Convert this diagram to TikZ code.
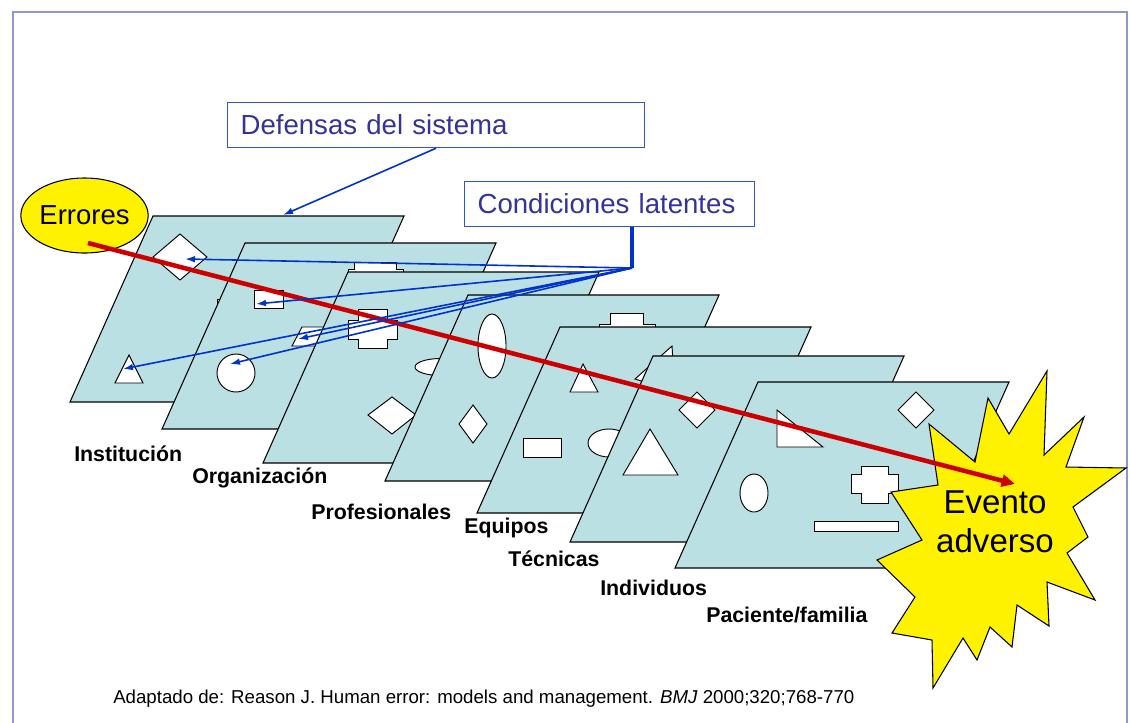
\documentclass[tikz,border=0pt]{standalone}
\usepackage{fontspec}
\setmainfont{Liberation Sans}
\usetikzlibrary{arrows.meta,shapes.geometric}
\definecolor{slabfill}{RGB}{187,224,227}
\definecolor{framecol}{RGB}{140,152,206}
\definecolor{hitred}{RGB}{204,0,0}
\definecolor{linkblue}{RGB}{0,51,204}
\definecolor{boxblue}{RGB}{51,85,204}
\definecolor{textblue}{RGB}{51,51,153}

\begin{document}
\begin{tikzpicture}[x=0.75pt,y=-0.75pt,
    slab/.style={draw=black,fill=slabfill,line width=0.8pt},
    hole/.style={draw=black,fill=white,line width=0.7pt},
    layer/.style={font=\fontsize{16}{18}\selectfont\bfseries,anchor=base west,inner sep=0pt},
    callout/.style={draw=boxblue,line width=0.9pt,fill=white,text=textblue,
        font=\fontsize{20.7}{24}\selectfont,align=left,inner xsep=9.75pt,inner ysep=2pt,
        minimum height=33.75pt,anchor=north west},
    latent/.style={draw=linkblue,line width=1.2pt,-{Latex[length=7.5pt,width=5pt]}},
    failure/.style={draw=hitred,line width=3.4pt,-{Triangle[length=10pt,width=9pt]}}]
    \useasboundingbox (0,0) rectangle (1130,722);
    \draw[framecol,line width=1.2pt] (13,730) -- (13,12) -- (1127,12) -- (1127,730);

    % Institucion
    \draw[slab] (153,216) -- ++(251,0) -- ++(-83,186) -- ++(-251,0) -- cycle;
    \draw[hole] (180,234) -- (207,257) -- (180,280) -- (153,257) -- cycle;
    \draw[hole] (129,355) -- (143,383) -- (115,383) -- cycle;
    \draw[hole] (217,299) rectangle (245,318);
    % Organizacion
    \draw[slab] (245,243) -- ++(251,0) -- ++(-83,186) -- ++(-251,0) -- cycle;
    \draw[hole] (254,290) rectangle (283,308);
    \draw[hole] (302,327) -- (334,327) -- (324,346) -- (292,346) -- cycle;
    \draw[hole] (236,373) circle[radius=14.25pt];
    \draw[hole] (354,262) -- (396,262) -- (396,269) -- (403,269) -- (403,292) -- (348,292) -- (348,269) -- (354,269) -- cycle;
    % Profesionales
    \draw[slab] (348,272) -- ++(251,0) -- ++(-85,191) -- ++(-251,0) -- cycle;
    \draw[hole] (358,309) -- (387,309) -- (387,320) -- (397,320) -- (397,339) -- (387,339) -- (387,348)
        -- (358,348) -- (358,339) -- (348,339) -- (348,320) -- (358,320) -- cycle;
    \draw[hole] (441,367) ellipse[x radius=19.5pt,y radius=6.4pt];
    \draw[hole] (392,397) -- (416,415) -- (392,434) -- (368,415) -- cycle;
    % Equipos
    \draw[slab] (468,295) -- ++(251,0) -- ++(-83,186) -- ++(-251,0) -- cycle;
    \draw[hole] (492,346) ellipse[x radius=10.5pt,y radius=24pt];
    \draw[hole] (473,405) -- (487,424) -- (473,443) -- (459,424) -- cycle;
    \draw[hole] (610,313) -- (643,313) -- (643,324) -- (655,324) -- (655,345) -- (599,345) -- (599,324) -- (610,324) -- cycle;
    % Tecnicas
    \draw[slab] (560,327) -- ++(251,0) -- ++(-83,186) -- ++(-251,0) -- cycle;
    \draw[hole] (583,364) -- (598,392) -- (570,392) -- cycle;
    \draw[hole] (523,438) rectangle (561,457);
    \draw[hole] (609,443) ellipse[x radius=15.75pt,y radius=10.5pt];
    \draw[hole] (635,379) -- (672,346) -- (675,392) -- cycle;
    % Individuos
    \draw[slab] (653,356) -- ++(251,0) -- ++(-83,186) -- ++(-251,0) -- cycle;
    \draw[hole] (697,392) -- (715,410) -- (697,428) -- (679,410) -- cycle;
    \draw[hole] (650,429) -- (678,475) -- (623,475) -- cycle;
    % Paciente/familia
    \draw[slab] (758,382) -- ++(251,0) -- ++(-83,186) -- ++(-251,0) -- cycle;
    \draw[hole] (777,410) -- (823,447) -- (777,447) -- cycle;
    \draw[hole] (916,392) -- (934,410) -- (916,428) -- (898,410) -- cycle;
    \draw[hole] (754,493) ellipse[x radius=10.5pt,y radius=14.25pt];
    \draw[hole] (861,466) -- (888,466) -- (888,474) -- (898,474) -- (898,493) -- (888,493) -- (888,503)
        -- (861,503) -- (861,493) -- (851,493) -- (851,474) -- (861,474) -- cycle;
    \draw[hole] (814,521) rectangle (898,531);

    \node[layer] (inst) at (74,461) {Institución};
    \node[layer] (orga) at (192,483) {Organización};
    \node[layer] (prof) at (311,519) {Profesionales};
    \node[layer] (equi) at (464,533) {Equipos};
    \node[layer] (tecn) at (508,566) {Técnicas};
    \node[layer] (indi) at (600,595) {Individuos};
    \node[layer] (paci) at (706,622) {Paciente/familia};

    % evento adverso
    \draw[black,fill=yellow,line width=0.8pt] (1047,371) -- (1044,455) -- (1084,417) -- (1066,467) -- (1126,468)
        -- (1073,507) -- (1088,537) -- (1067,553) -- (1095,600) -- (1047,582) -- (1049,626) -- (1017,605)
        -- (1012,647) -- (990,627) -- (977,660) -- (963,638) -- (933,688) -- (932,640) -- (892,633)
        -- (915,597) -- (877,560) -- (922,540) -- (891,492) -- (938,485) -- (929,424) -- (975,462)
        -- (988,398) -- (1009,434) -- cycle;
    \node[font=\fontsize{24.8}{29.3}\selectfont,align=center,inner sep=0pt] (evento) at (995,522) {Evento\\adverso};

    \node[ellipse,draw=black,fill=yellow,line width=0.8pt,minimum width=87.75pt,minimum height=56.25pt,
        inner sep=0pt,font=\fontsize{20.6}{24}\selectfont] (errores) at (84.5,215.5) {Errores};

    \node[callout,text width=293.25pt] (defensas) at (227,102) {Defensas del sistema};
    \node[callout,text width=198pt] (condiciones) at (464,181) {Condiciones latentes};

    \coordinate (hub) at (632,268);
    \coordinate (d1) at (283,215);
    \coordinate (t1) at (185,259);
    \coordinate (t2) at (256,304);
    \coordinate (t3) at (298,339);
    \coordinate (t4) at (123,369);
    \coordinate (t5) at (230,364);
    \coordinate (start) at (88,243);
    \coordinate (hit) at (1015,484);

    \draw[failure] (start) -- (hit);

    \draw[latent] (defensas.south) -- (d1);
    \draw[linkblue,line width=2.5pt] (condiciones.south -| hub) -- (hub);
    \draw[latent] (hub) -- (t1);
    \draw[latent] (hub) -- (t2);
    \draw[latent] (hub) -- (t3);
    \draw[latent] (hub) -- (t4);
    \draw[latent] (hub) -- (t5);

    \node[font=\fontsize{14}{16}\selectfont,anchor=base west,inner sep=0pt] (fuente) at (113,703)
        {Adaptado de: Reason J. Human error: models and management. \textit{BMJ} 2000;320;768-770};
\end{tikzpicture}
\end{document}
